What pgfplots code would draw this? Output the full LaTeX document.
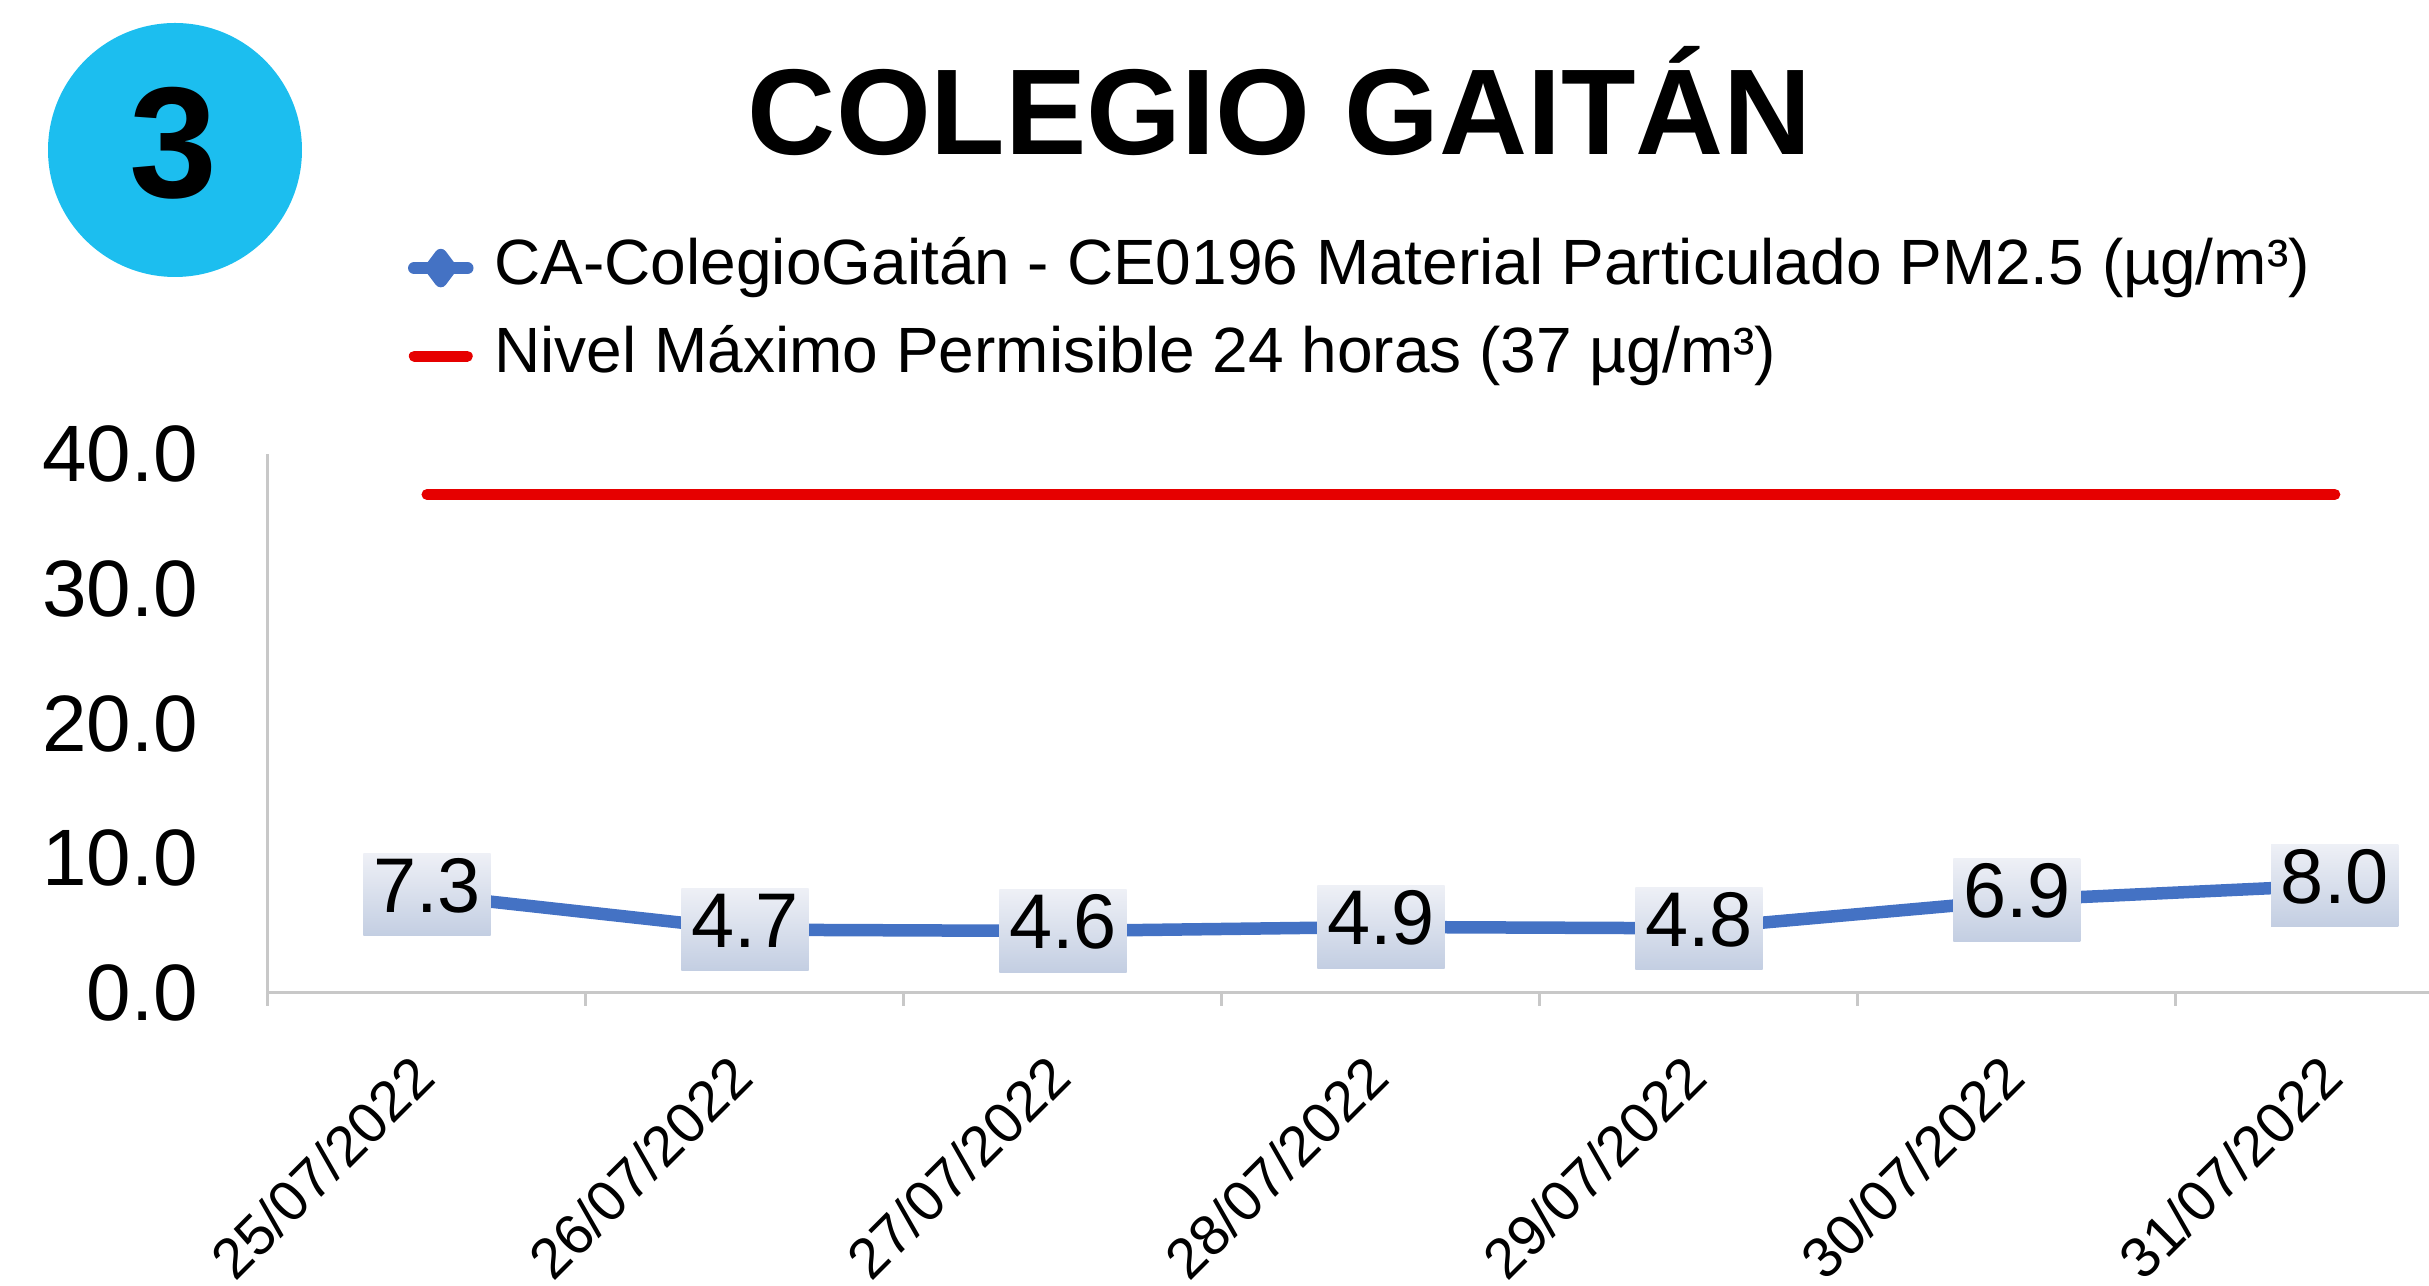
\documentclass[border=0pt]{standalone}
\usepackage{pgfplots}
\pgfplotsset{compat=1.18}
\usepackage{fontspec}
\setmainfont{Liberation Sans}
\definecolor{serieblue}{HTML}{4472C4}
\definecolor{limred}{HTML}{E60000}
\definecolor{circ}{HTML}{1CBEEF}
\definecolor{axgray}{HTML}{C8C8C8}
\definecolor{labtop}{HTML}{EEF0F6}
\definecolor{labbot}{HTML}{C3CEE2}
\begin{document}
\begin{tikzpicture}
\path[use as bounding box] (0,0) rectangle (485.8pt,257.2pt);
\fill[circ] (35pt,227.2pt) circle (25.4pt);
\node[anchor=base, font=\fontsize{31.6}{32}\selectfont\bfseries, inner sep=0pt] at (34.6pt,217.6pt) {3};
\node[anchor=base, font=\fontsize{24.4}{26}\selectfont\bfseries, inner sep=0pt] at (256pt,226.2pt) {COLEGIO GAITÁN};
\begin{axis}[
  at={(53.6pt,58.6pt)}, anchor=south west,
  scale only axis, width=432.2pt, height=107.8pt,
  xmin=-0.5, xmax=6.296, ymin=0, ymax=40,
  axis lines=left, axis line style={-, draw=axgray, line width=0.6pt},
  xtick={0,1,2,3,4,5,6},
  xticklabels={25/07/2022,26/07/2022,27/07/2022,28/07/2022,29/07/2022,30/07/2022,31/07/2022},
  minor xtick={-0.5,0.5,1.5,2.5,3.5,4.5,5.5},
  ytick={0,10,20,30,40},
  /pgf/number format/assume math mode=true,
  yticklabel={\pgfmathprintnumber[fixed,fixed zerofill,precision=1]{\tick}},
  major tick length=0pt, minor tick length=2.6pt, tick align=outside,
  tick style={draw=axgray, line width=0.6pt},
  yticklabel style={font=\fontsize{16}{17}\selectfont, inner sep=0pt, anchor=east, xshift=-13.8pt},
  xticklabel style={font=\fontsize{11.4}{13}\selectfont, inner sep=0pt, xshift=-0.6pt, yshift=-14.6pt, rotate=45, anchor=east},
  clip=false,
  legend style={at={(0.0648,1.403)}, anchor=north west, draw=none, fill=none,
    inner sep=0pt, outer sep=0pt, font=\fontsize{12.8}{15}\selectfont, row sep=5.1pt,
    nodes={inner sep=0pt, text height=9.5pt, text depth=3pt},
    /tikz/every odd column/.append style={column sep=4.2pt}},
  legend cell align=left,
  legend image code/.code={\draw[#1, mark repeat=2, mark phase=2] plot coordinates {(0pt,0pt) (5.3pt,0pt) (10.6pt,0pt)};},
]
\addplot[serieblue, line width=2.5pt, line cap=round, line join=round, mark=diamond*, mark size=2.6pt,
  nodes near coords={\pgfmathprintnumber[fixed,fixed zerofill,precision=1]{\pgfplotspointmeta}},
  every node near coord/.append style={anchor=center, top color=labtop, bottom color=labbot,
    draw=none, text=black, font=\fontsize{15.5}{16}\selectfont, inner xsep=1.95pt, inner ysep=4.65pt,
    text height=0.716em, text depth=0pt}]
coordinates {(0,7.3) (1,4.7) (2,4.6) (3,4.9) (4,4.8) (5,6.9) (6,8.0)};
\addlegendentry{CA-ColegioGaitán - CE0196 Material Particulado PM2.5 (µg/m³)}
\addplot[limred, line width=2.2pt, line cap=round, mark=none]
coordinates {(0,37) (1,37) (2,37) (3,37) (4,37) (5,37) (6,37)};
\addlegendentry{Nivel Máximo Permisible 24 horas (37 µg/m³)}
\end{axis}
\end{tikzpicture}
\end{document}
